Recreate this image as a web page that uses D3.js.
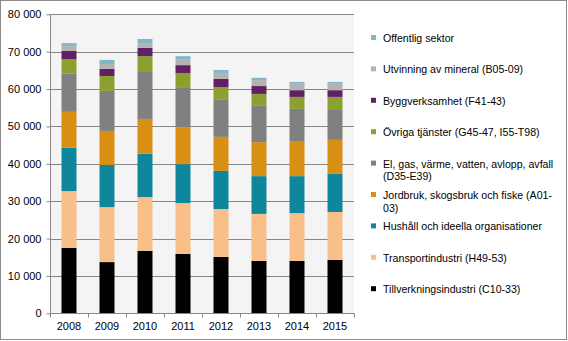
<!DOCTYPE html>
<html>
<head>
<meta charset="utf-8">
<script src="https://cdn.jsdelivr.net/npm/d3@7"></script>
<style>
  body { margin: 0; background: #fff; }
  text { font-family: "Liberation Sans", Arial, sans-serif; font-size: 11px; fill: #000; }
  .legend text { font-size: 10.6px; }
</style>
</head>
<body>
<div id="chart"></div>
<script>
// years on the x axis
var years = ["2008", "2009", "2010", "2011", "2012", "2013", "2014", "2015"];

// one array per sector, bottom of the stack first
var tillverkning = [17500, 13700, 16700, 15900, 15100, 14000, 14000, 14300];
var transport = [15200, 14700, 14400, 13600, 12800, 12600, 12800, 12800];
var hushall = [11600, 11300, 11600, 10400, 10200, 10100, 9900, 10200];
var jordbruk = [9600, 9100, 9300, 9900, 9100, 9100, 9400, 9100];
var elgas = [10200, 10700, 12800, 10500, 9900, 9700, 8600, 8000];
var ovriga = [3900, 4000, 4000, 4000, 3400, 3200, 3200, 3500];
var bygg = [2200, 1900, 2200, 2100, 2200, 2100, 1800, 1800];
var utvinning = [1300, 1300, 1300, 1600, 1600, 1600, 1700, 1700];
var offentlig = [800, 1100, 1100, 800, 800, 600, 500, 500];

var yTicks = [0, 10000, 20000, 30000, 40000, 50000, 60000, 70000, 80000];

var seriesNames = [
  "Tillverkningsindustri (C10-33)",
  "Transportindustri (H49-53)",
  "Hushåll och ideella organisationer",
  "Jordbruk, skogsbruk och fiske (A01-03)",
  "El, gas, värme, vatten, avlopp, avfall (D35-E39)",
  "Övriga tjänster (G45-47, I55-T98)",
  "Byggverksamhet (F41-43)",
  "Utvinning av mineral (B05-09)",
  "Offentlig sektor"
];
var seriesValues = [tillverkning, transport, hushall, jordbruk, elgas, ovriga, bygg, utvinning, offentlig];
var colors = ["#000000", "#f8bf88", "#0e879c", "#d98e14", "#808080", "#8ca02f", "#622064", "#b3b3b3", "#82b8c6"];

// legend text, wrapped the same way as in the chart frame
var legendLines = [
  ["Tillverkningsindustri (C10-33)"],
  ["Transportindustri (H49-53)"],
  ["Hushåll och ideella organisationer"],
  ["Jordbruk, skogsbruk och fiske (A01-", "03)"],
  ["El, gas, värme, vatten, avlopp, avfall", "(D35-E39)"],
  ["Övriga tjänster (G45-47, I55-T98)"],
  ["Byggverksamhet (F41-43)"],
  ["Utvinning av mineral (B05-09)"],
  ["Offentlig sektor"]
];

var svgWidth = 568;
var svgHeight = 341;
var plot = { left: 50, top: 14.3, right: 354, bottom: 313.3 };

var svg = d3.select("#chart")
  .append("svg")
  .attr("width", svgWidth)
  .attr("height", svgHeight);

// outer frame
svg.append("rect")
  .attr("x", 0.5).attr("y", 0.5)
  .attr("width", svgWidth - 2).attr("height", svgHeight - 2)
  .attr("fill", "#fff")
  .attr("stroke", "#8c8c8c");

svg.append("rect")
  .attr("x", plot.left).attr("y", plot.top)
  .attr("width", plot.right - plot.left).attr("height", plot.bottom - plot.top)
  .attr("fill", "#f4f4f4");

var xOuter = d3.scaleBand().domain(years).range([plot.left, plot.right]);

var y = d3.scaleLinear()
  .domain([0, 80000])
  .range([plot.bottom, plot.top]);

// gridlines
svg.append("g")
  .selectAll("line")
  .data(yTicks.slice(1))
  .enter()
  .append("line")
  .attr("x1", plot.left).attr("x2", plot.right)
  .attr("y1", d => Math.round(y(d)) + 0.5)
  .attr("y2", d => Math.round(y(d)) + 0.5)
  .attr("stroke", "#878787");

// stacked bars
var table = years.map(function(yr, i) {
  var row = { year: yr };
  seriesNames.forEach(function(n, k) { row[n] = seriesValues[k][i]; });
  return row;
});
var stacked = d3.stack().keys(seriesNames)(table);

svg.append("g")
  .selectAll("g")
  .data(stacked)
  .enter()
  .append("g")
  .attr("fill", (d, i) => colors[i])
  .selectAll("rect")
  .data(d => d)
  .enter()
  .append("rect")
  .attr("x", d => xOuter(d.data.year) + xOuter.bandwidth() / 2 - 7.5)
  .attr("width", 15)
  .attr("y", d => y(d[1]))
  .attr("height", d => y(d[0]) - y(d[1]));

// y axis
var yAxis = svg.append("g")
  .attr("transform", `translate(${plot.left + 0.5}, 0)`)
  .call(d3.axisLeft(y).tickValues(yTicks).tickSize(4).tickPadding(5)
    .tickFormat(d => d3.format(",")(d).replace(",", " ")));
yAxis.select(".domain").attr("stroke", "#878787").attr("d", `M0,${plot.top}V${plot.bottom + 0.5}`);
yAxis.selectAll(".tick line").attr("stroke", "#878787");
yAxis.selectAll(".tick text").style("font-size", "11px").style("font-family", "Liberation Sans, Arial, sans-serif");

// x axis with ticks between categories
var xAxisG = svg.append("g").attr("transform", `translate(0, ${Math.round(plot.bottom) + 0.5})`);
xAxisG.append("line")
  .attr("x1", plot.left).attr("x2", plot.right + 0.5)
  .attr("stroke", "#878787");
xAxisG.selectAll(".xt")
  .data(years.concat(["end"]))
  .enter()
  .append("line")
  .attr("x1", (d, i) => Math.round(plot.left + i * xOuter.bandwidth()) + 0.5)
  .attr("x2", (d, i) => Math.round(plot.left + i * xOuter.bandwidth()) + 0.5)
  .attr("y1", 0).attr("y2", 4)
  .attr("stroke", "#878787");
xAxisG.selectAll("text")
  .data(years)
  .enter()
  .append("text")
  .attr("x", d => xOuter(d) + xOuter.bandwidth() / 2)
  .attr("y", 16)
  .attr("text-anchor", "middle")
  .text(d => d);

// legend, top entry first
var legend = svg.append("g").attr("class", "legend");
var order = d3.range(seriesNames.length).reverse();
order.forEach(function(k, i) {
  var ly = 38 + i * 31.4;
  legend.append("rect")
    .attr("x", 371).attr("y", ly - 3)
    .attr("width", 5).attr("height", 5)
    .attr("fill", colors[k]);
  legendLines[k].forEach(function(line, j) {
    legend.append("text")
      .attr("x", 383)
      .attr("y", ly + j * 12.5 + 4)
      .text(line);
  });
});
</script>
</body>
</html>
